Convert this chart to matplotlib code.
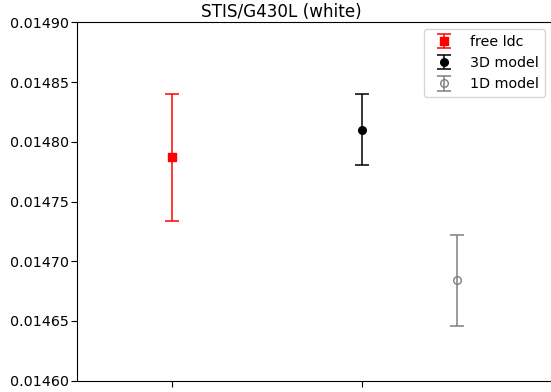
import numpy as np
import matplotlib
matplotlib.use("Agg")
import matplotlib.pyplot as plt

# Data
labels = ["free ldc", "3D model", "1D model"]
x_pos = [0.0, 1.0, 1.5]
values = [0.014787, 0.014810, 0.014684]
errors = [0.0000534, 0.0000297, 0.0000378]

plt.rcParams['font.size'] = 10.3

fig = plt.figure(figsize=(5.51, 3.92), dpi=100)
ax = fig.add_axes([77 / 551, 1 - 380.7 / 392, (552 - 77) / 551, (380.7 - 22.3) / 392])

ax.errorbar(x_pos[0], values[0], yerr=errors[0], fmt='s', color='red',
            ms=5.5, capsize=4.8, elinewidth=1.1, capthick=1.1, label=labels[0])
ax.errorbar(x_pos[1], values[1], yerr=errors[1], fmt='o', color='black',
            ms=5.5, capsize=4.8, elinewidth=1.1, capthick=1.1, label=labels[1])
ax.errorbar(x_pos[2], values[2], yerr=errors[2], fmt='o', color='gray', mfc='none',
            ms=5.5, capsize=4.8, elinewidth=1.1, capthick=1.1, label=labels[2])

ax.set_ylim(0.01460, 0.01490)
ax.set_yticks(np.arange(0.01460, 0.014901, 0.00005))
ax.yaxis.set_major_formatter(matplotlib.ticker.FormatStrFormatter('%.5f'))
ax.tick_params(axis='y', length=4, pad=1.5)
ax.tick_params(axis='x', length=4)
ax.set_xlim(-0.5, 2.0)
ax.set_xticks([0, 1])
ax.set_xticklabels(['', ''])
ax.set_title("STIS/G430L (white)", fontsize=12.1, pad=4, x=0.4295)
ax.legend(loc='upper right')

fig.savefig("out.png", dpi=100)
